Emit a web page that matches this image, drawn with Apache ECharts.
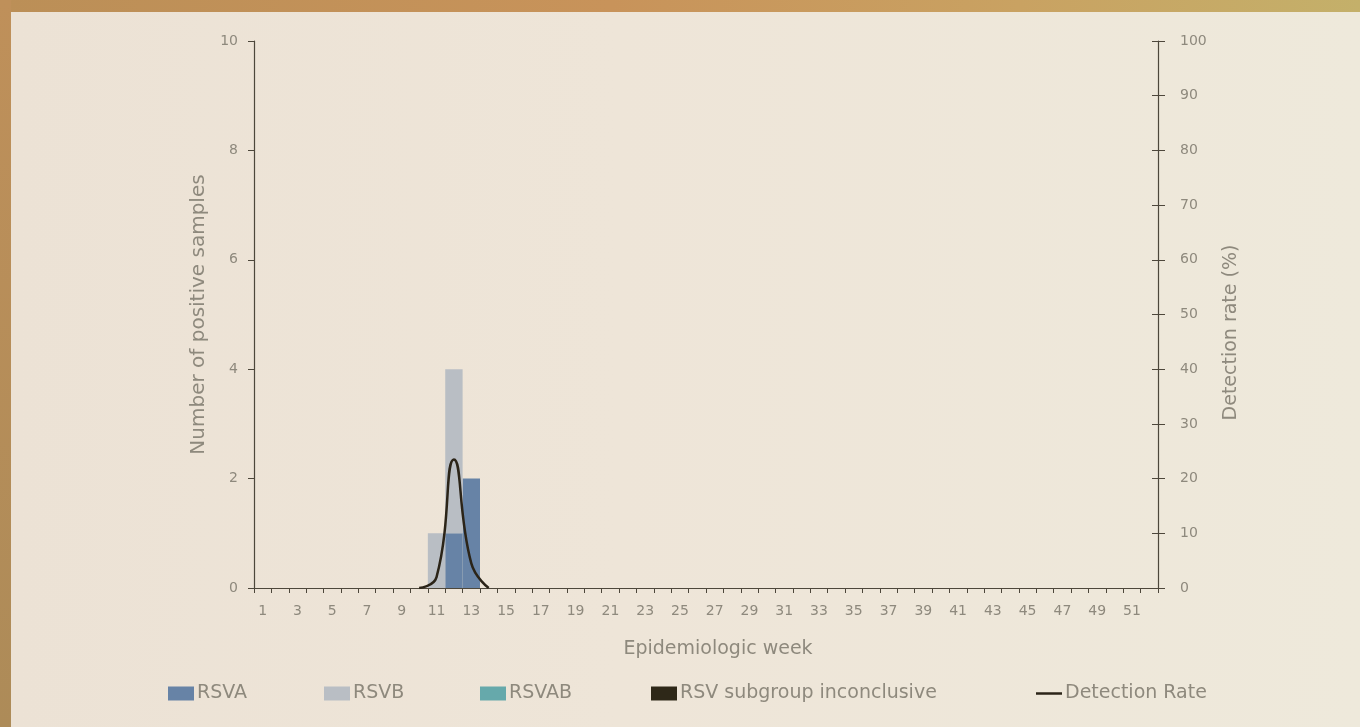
<!DOCTYPE html>
<html>
<head>
<meta charset="utf-8">
<script src="https://cdn.jsdelivr.net/npm/echarts@6/dist/echarts.min.js"></script>
<style>
html,body{margin:0;padding:0;width:1360px;height:727px;overflow:hidden;}
body{background:linear-gradient(90deg,#bb8f57 0%,#c8935a 45%,#c9a262 75%,#c4b06a 100%);}
#left{position:absolute;left:0;top:0;width:11px;height:727px;background:linear-gradient(180deg,#bf905a,#ad8b58);}
#inner{position:absolute;left:11px;top:12px;right:0;bottom:0;background:linear-gradient(90deg,#ece2d5 0%,#eee5d8 45%,#eee9db 100%);}
#chart{position:absolute;left:0;top:0;width:1360px;height:727px;}
</style>
</head>
<body>
<div id="left"></div>
<div id="inner"></div>
<div id="chart"></div>
<script>
const weeks = Array.from({length:52},(_,i)=>String(i+1));
const rsvA = [0,0,0,0,0,0,0,0,0,0,0,1,2,0,0,0,0,0,0,0,0,0,0,0,0,0,0,0,0,0,0,0,0,0,0,0,0,0,0,0,0,0,0,0,0,0,0,0,0,0,0,0];
const rsvB = [0,0,0,0,0,0,0,0,0,0,1,3,0,0,0,0,0,0,0,0,0,0,0,0,0,0,0,0,0,0,0,0,0,0,0,0,0,0,0,0,0,0,0,0,0,0,0,0,0,0,0,0];
const rsvAB = new Array(52).fill(0);
const rsvInconclusive = new Array(52).fill(0);
const detectionRate = [null,null,null,null,null,null,null,null,null,0,2,23.5,4.5,0,null,null,null,null,null,null,null,null,null,null,null,null,null,null,null,null,null,null,null,null,null,null,null,null,null,null,null,null,null,null,null,null,null,null,null,null,null,null];
const legendNames = ['RSVA','RSVB','RSVAB','RSV subgroup inconclusive','Detection Rate'];

const FONT = "'DejaVu Sans', sans-serif";
const TXT = '#8e897d';
const AX = '#4d473b';
const legendLefts = [168,324,480,651,1036];

const legends = legendNames.map((n,i)=>({
  left:legendLefts[i], top:684, padding:0, itemWidth:26, itemHeight:14,
  textStyle:{color:TXT,fontSize:19,fontFamily:FONT,padding:[0,0,0,-2]},
  data:[ i===4 ? {name:n,icon:'path://M0,6 L26,6 L26,8.5 L0,8.5 Z',itemStyle:{color:'#2b2418'}} : {name:n,icon:'rect'} ]
}));

const chart = echarts.init(document.getElementById('chart'));
chart.setOption({
  animation:false,
  backgroundColor:'transparent',
  textStyle:{fontFamily:FONT},
  grid:{left:254,right:202,top:41,bottom:139,containLabel:false},
  legend:legends,
  xAxis:{
    type:'category', data:weeks, boundaryGap:true,
    name:'Epidemiologic week', nameLocation:'middle', nameGap:52,
    nameTextStyle:{color:TXT,fontSize:19,fontFamily:FONT,padding:[0,0,0,24]},
    axisLine:{lineStyle:{color:AX,width:1.2}},
    axisTick:{show:true,alignWithLabel:false,interval:0,length:5,lineStyle:{color:AX}},
    axisLabel:{interval:1,color:TXT,fontSize:14,margin:16,fontFamily:FONT}
  },
  yAxis:[
    {
      type:'value', min:0, max:10, interval:2, position:'left',
      name:'Number of positive samples', nameLocation:'middle', nameGap:45, nameRotate:90,
      nameTextStyle:{color:TXT,fontSize:20,fontFamily:FONT},
      axisLine:{show:true,lineStyle:{color:AX,width:1.2}},
      axisTick:{show:true,length:6,lineStyle:{color:AX}},
      axisLabel:{color:TXT,fontSize:14,margin:16,fontFamily:FONT},
      splitLine:{show:false}
    },
    {
      type:'value', min:0, max:100, interval:10, position:'right',
      name:'Detection rate (%)', nameLocation:'middle', nameGap:64, nameRotate:90,
      nameTextStyle:{color:TXT,fontSize:19,fontFamily:FONT,padding:[0,36,0,0]},
      axisLine:{show:true,lineStyle:{color:AX,width:1.2}},
      axisTick:{show:true,length:7,lineStyle:{color:AX}},
      axisLabel:{color:TXT,fontSize:14,margin:22,fontFamily:FONT},
      splitLine:{show:false}
    },
    {
      type:'value', min:0, max:100, interval:10, position:'right', offset:0,
      axisLine:{show:false},
      axisTick:{show:true,inside:true,length:6,lineStyle:{color:AX}},
      axisLabel:{show:false},
      splitLine:{show:false}
    }
  ],
  series:[
    {name:'RSVA',type:'bar',stack:'rsv',data:rsvA,barCategoryGap:'0%',itemStyle:{color:'#6783a6'}},
    {name:'RSVB',type:'bar',stack:'rsv',data:rsvB,barCategoryGap:'0%',itemStyle:{color:'#b9bec4'}},
    {name:'RSVAB',type:'bar',stack:'rsv',data:rsvAB,barCategoryGap:'0%',itemStyle:{color:'#66a9ab'}},
    {name:'RSV subgroup inconclusive',type:'bar',stack:'rsv',data:rsvInconclusive,barCategoryGap:'0%',itemStyle:{color:'#2e2818'}},
    {name:'Detection Rate',type:'line',yAxisIndex:1,data:detectionRate,smooth:true,showSymbol:false,symbol:'none',connectNulls:false,
     lineStyle:{color:'#2b2418',width:2.5},itemStyle:{color:'#2b2418'}}
  ]
});
</script>
</body>
</html>
